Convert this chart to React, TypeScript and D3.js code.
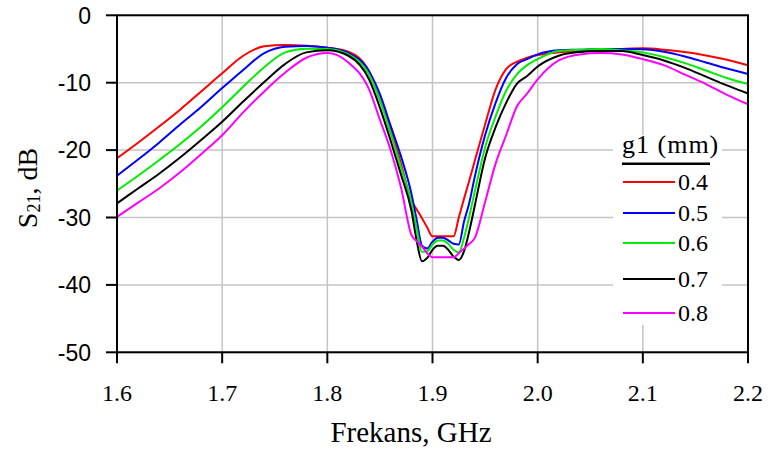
import React from "react";
import * as d3 from "d3";

const freqs = [1.60,1.62,1.64,1.66,1.68,1.70,1.72,1.74,1.76,1.78,1.80,1.82,1.84,1.85,1.86,1.87,1.88,1.885,1.89,1.895,1.90,1.905,1.91,1.915,1.92,1.925,1.93,1.935,1.94,1.95,1.96,1.97,1.98,1.99,2.00,2.02,2.04,2.06,2.08,2.10,2.12,2.14,2.16,2.18,2.20];

const g04 = [-21.2,-18.9,-16.5,-14.0,-11.3,-8.6,-6.0,-4.6,-4.4,-4.5,-4.8,-5.4,-8.4,-12.5,-16.6,-22.0,-27.5,-28.8,-30.1,-31.5,-32.8,-32.8,-32.8,-32.8,-32.8,-30.0,-27.2,-24.5,-21.7,-16.2,-11.0,-8.0,-6.9,-6.3,-5.9,-5.5,-5.3,-5.15,-5.0,-4.9,-5.1,-5.45,-5.95,-6.6,-7.4];
const g05 = [-23.8,-21.4,-18.9,-16.2,-13.6,-10.8,-8.1,-5.6,-4.65,-4.55,-4.8,-5.6,-8.4,-11.7,-16.3,-20.9,-26.5,-30.4,-34.2,-34.6,-33.6,-33.0,-33.0,-33.4,-33.9,-34.0,-30.6,-27.8,-24.1,-17.8,-13.0,-9.3,-7.3,-6.5,-5.8,-5.2,-5.1,-5.0,-5.0,-5.05,-5.4,-6.1,-7.0,-7.9,-8.7];
const g06 = [-26.0,-23.8,-21.5,-19.1,-16.5,-13.65,-10.6,-7.7,-5.5,-4.95,-5.0,-5.8,-8.9,-12.6,-17.4,-22.5,-27.8,-31.7,-35.1,-35.0,-34.0,-33.4,-33.4,-33.9,-34.8,-35.2,-33.0,-29.8,-26.3,-19.6,-15.0,-11.2,-8.8,-7.4,-6.5,-5.3,-5.1,-5.0,-5.2,-5.5,-6.2,-7.1,-8.2,-9.3,-10.2];
const g07 = [-27.9,-25.7,-23.5,-21.1,-18.5,-15.8,-12.8,-9.9,-7.2,-5.5,-5.2,-6.0,-9.6,-13.7,-18.5,-23.6,-29.0,-33.5,-36.5,-36.0,-34.8,-34.2,-34.2,-34.8,-35.8,-36.3,-35.0,-32.0,-28.4,-21.2,-16.6,-13.0,-10.2,-9.0,-7.6,-6.0,-5.45,-5.3,-5.3,-5.9,-6.7,-7.8,-9.1,-10.4,-11.6];
const g08 = [-29.9,-27.8,-25.7,-23.3,-20.6,-17.8,-14.4,-11.3,-8.5,-6.3,-5.6,-7.0,-11.1,-15.5,-19.9,-25.5,-32.6,-33.5,-34.3,-35.3,-35.9,-35.9,-35.9,-35.9,-35.9,-35.3,-34.6,-33.9,-33.1,-27.7,-22.0,-17.8,-13.6,-11.6,-9.5,-6.7,-5.8,-5.6,-5.8,-6.5,-7.4,-8.8,-10.2,-11.8,-13.2];

const seriesLabels = ["0.4", "0.5", "0.6", "0.7", "0.8"];
const seriesValues = [g04, g05, g06, g07, g08];
const seriesColors = ["#ff0000", "#0000ff", "#00ee00", "#000000", "#ff00ff"];

const xTicks = [1.6, 1.7, 1.8, 1.9, 2.0, 2.1, 2.2];
const yTicks = [0, -10, -20, -30, -40, -50];
const legendTitle = "g1 (mm)";
const legendRowY = [182, 213, 243, 279, 313];

export default function App() {
  const W = 771, H = 452;
  const left = 117, right = 748, top = 15.3, bottom = 352.3;
  const x = d3.scaleLinear().domain([1.6, 2.2]).range([left, right]);
  const y = d3.scaleLinear().domain([-50, 0]).range([bottom, top]);
  const line = d3
    .line<number>()
    .x((_, i) => x(freqs[i]))
    .y((d) => y(d))
    .curve(d3.curveMonotoneX);

  const serif = "'Liberation Serif', 'Times New Roman', serif";
  const sans = "'Liberation Sans', Arial, sans-serif";

  return (
    <svg width={W} height={H} style={{ position: "absolute", left: 0, top: 0, background: "#fff" }}>
      <rect x={0} y={0} width={W} height={H} fill="#fff" />
      {/* grid */}
      {xTicks.map((t) => (
        <line key={"gx" + t} x1={x(t)} x2={x(t)} y1={top} y2={bottom} stroke="#c4c4c4" strokeWidth={1.5} />
      ))}
      {yTicks.map((t) => (
        <line key={"gy" + t} x1={left} x2={right} y1={y(t)} y2={y(t)} stroke="#c4c4c4" strokeWidth={1.5} />
      ))}
      {/* curves */}
      {seriesValues.map((vals, i) => (
        <path key={"s" + i} d={line(vals) || ""} fill="none" stroke={seriesColors[i]} strokeWidth={2} strokeLinejoin="round" />
      ))}
      {/* legend */}
      <rect x={613} y={135} width={109} height={190} fill="#fff" />
      <text x={622} y={153} fontFamily={serif} fontSize={26} letterSpacing={1} fill="#000">{legendTitle}</text>
      <line x1={622} x2={710} y1={163.7} y2={163.7} stroke="#000" strokeWidth={2.5} />
      {seriesLabels.map((lab, i) => (
        <g key={"lg" + i}>
          <line x1={623} x2={675} y1={legendRowY[i]} y2={legendRowY[i]} stroke={seriesColors[i]} strokeWidth={2} />
          <text x={678} y={legendRowY[i] + 8} fontFamily={serif} fontSize={24} fill="#000">{lab}</text>
        </g>
      ))}
      {/* frame */}
      <rect x={left} y={top} width={right - left} height={bottom - top} fill="none" stroke="#000" strokeWidth={2} />
      {/* ticks */}
      {yTicks.map((t) => (
        <g key={"ty" + t}>
          <line x1={left - 11} x2={left} y1={y(t)} y2={y(t)} stroke="#000" strokeWidth={2} />
          <text x={91} y={y(t)} dy="0.36em" textAnchor="end" fontFamily={sans} fontSize={23} fill="#000">{t}</text>
        </g>
      ))}
      {xTicks.map((t) => (
        <g key={"tx" + t}>
          <line x1={x(t)} x2={x(t)} y1={bottom} y2={bottom + 11} stroke="#000" strokeWidth={2} />
          <text x={x(t)} y={401} textAnchor="middle" fontFamily={serif} fontSize={24} fill="#000">{t.toFixed(1)}</text>
        </g>
      ))}
      {/* axis titles */}
      <text x={411} y={441.5} textAnchor="middle" fontFamily={serif} fontSize={29} fill="#000">Frekans, GHz</text>
      <text transform="translate(37,188) rotate(-90)" textAnchor="middle" fontFamily={serif} fontSize={28} fill="#000">
        S<tspan fontSize={18} dy={3}>21</tspan><tspan dy={-3}>, dB</tspan>
      </text>
    </svg>
  );
}
